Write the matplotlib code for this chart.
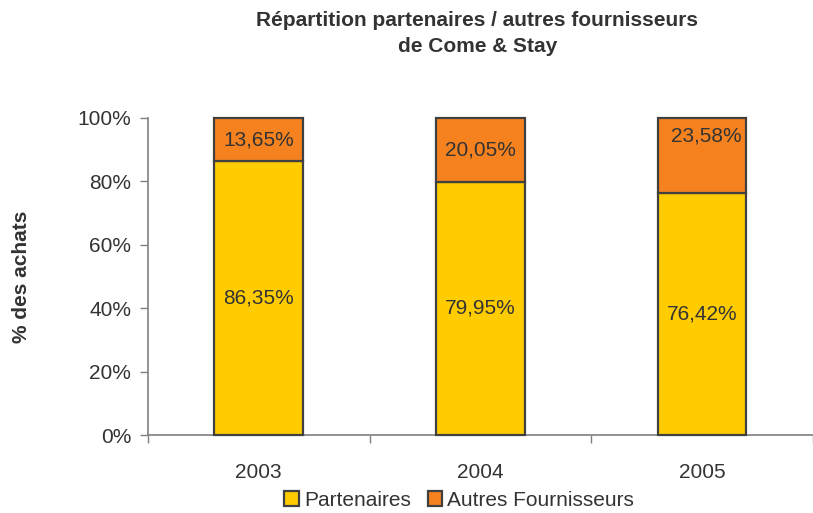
import matplotlib
matplotlib.use("Agg")
import matplotlib.pyplot as plt
import numpy as np

plt.rcParams['font.family'] = ['Liberation Sans', 'DejaVu Sans']

years = ["2003", "2004", "2005"]
partenaires = [86.35, 79.95, 76.42]
autres = [13.65, 20.05, 23.58]
series_names = ["Partenaires", "Autres Fournisseurs"]

YELLOW = "#FFCC00"
ORANGE = "#F5821F"
EDGE = "#404040"
TXT = "#333333"
FS = 15

fig = plt.figure(figsize=(8.13, 5.13), dpi=100)
ax = fig.add_axes([0.182, 0.152, 0.818, 0.618])

x = np.arange(len(years))
w = 0.4
b1 = ax.bar(x, partenaires, w, color=YELLOW, edgecolor=EDGE, linewidth=1.6,
            label=series_names[0], zorder=3, clip_on=False)
b2 = ax.bar(x, autres, w, bottom=partenaires, color=ORANGE, edgecolor=EDGE,
            linewidth=1.6, label=series_names[1], zorder=3, clip_on=False)

def fmt(v):
    return f"{v:.2f}%".replace(".", ",")

# label placement tweak (Excel pushed the 2005 label up and right)
top_shift_y = [0, 0, 6]
top_shift_x = [0, 0, 0.02]
for i in range(len(years)):
    ax.text(x[i], partenaires[i] / 2, fmt(partenaires[i]), ha="center", va="center",
            fontsize=FS, color=TXT, zorder=4)
    ax.text(x[i] + top_shift_x[i], partenaires[i] + autres[i] / 2 + top_shift_y[i],
            fmt(autres[i]), ha="center", va="center", fontsize=FS, color=TXT, zorder=4)

ax.set_xlim(-0.5, 2.456)
ax.set_ylim(0, 100)
ax.set_yticks(np.arange(0, 101, 20))
ax.set_yticklabels([f"{v}%" for v in range(0, 101, 20)], fontsize=FS, color=TXT)
ax.set_xticks(x)
ax.set_xticklabels(years, fontsize=FS, color=TXT)
ax.tick_params(axis="x", which="major", length=0, pad=20)
ax.set_xticks([-0.5, 0.5, 1.5, 2.5], minor=True)
ax.tick_params(axis="x", which="minor", length=6, color="#808080", width=1)
ax.tick_params(axis="y", length=6, color="#808080", width=1, pad=6)

for s in ["top", "right"]:
    ax.spines[s].set_visible(False)
for s in ["left", "bottom"]:
    ax.spines[s].set_color("#808080")
    ax.spines[s].set_linewidth(1.2)

fig.text(0.027, 0.46, "% des achats", rotation=90, ha="center", va="center",
         fontsize=FS, fontweight="bold", color=TXT)

fig.text(0.587, 0.935, "Répartition partenaires / autres fournisseurs\nde Come & Stay",
         ha="center", va="center", fontsize=FS, fontweight="bold", color=TXT,
         linespacing=1.5)

fig.legend(handles=[b1, b2], labels=series_names, loc="center",
           bbox_to_anchor=(0.565, 0.025), ncol=2, frameon=False, fontsize=FS,
           handlelength=0.7, handleheight=0.7, handletextpad=0.25, columnspacing=0.8,
           labelcolor=TXT)

fig.savefig("out.png", dpi=100)
